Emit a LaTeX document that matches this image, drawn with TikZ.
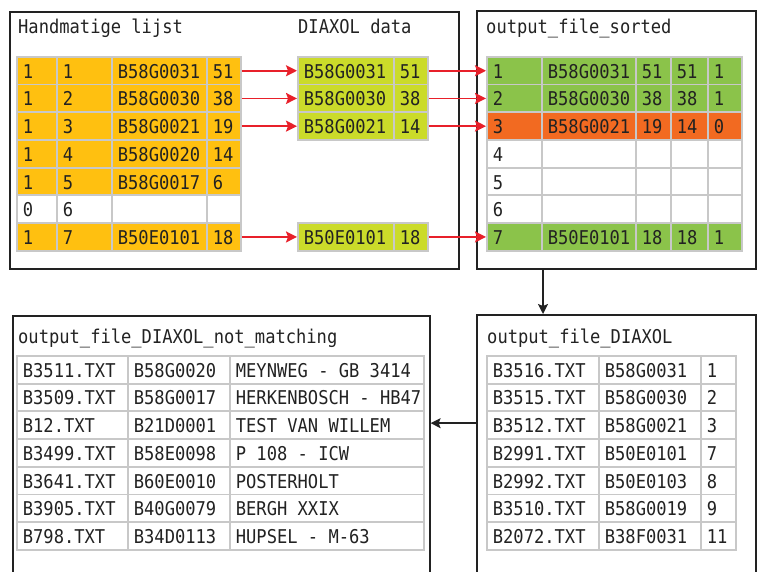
\documentclass[tikz,border=0pt]{standalone}
\usepackage{fontspec}
\newfontfamily\diagfont[FakeStretch=0.9]{DejaVu Sans Mono}
\usepackage{xcolor}
\usepackage{tikz}
\usetikzlibrary{arrows.meta, positioning}
\definecolor{boxdark}{RGB}{34,34,34}
\definecolor{cellgrey}{RGB}{200,200,200}
\definecolor{handyellow}{RGB}{255,192,16}
\definecolor{diaxlime}{RGB}{203,219,42}
\definecolor{okgreen}{RGB}{139,195,74}
\definecolor{badorange}{RGB}{242,106,33}
\definecolor{arrowred}{RGB}{232,32,42}
\newcommand{\tabfont}{\diagfont\fontsize{19pt}{22pt}\selectfont}
\newcommand{\celltxt}[2]{\hbox to #1pt{\hspace{6pt}#2\hfil}}
\tikzset{
  panel/.style={rectangle, draw=boxdark, line width=1.6pt,
    anchor=north west, inner sep=0pt},
  title/.style={anchor=base west, inner sep=0pt, font=\tabfont,
    text=boxdark},
  cell/.style={rectangle, draw=cellgrey, line width=1.8pt,
    anchor=north west, minimum height=27.7pt, inner sep=0pt,
    text height=15pt, text depth=-2pt, font=\tabfont, text=boxdark},
  redarrow/.style={-{Stealth[length=11pt, width=11pt, inset=2pt]},
    line width=1.8pt, color=arrowred},
  arrow/.style={-{Stealth[length=10pt, width=10pt, inset=2pt]},
    line width=1.4pt, color=boxdark}
}

\begin{document}
\begin{tikzpicture}[x=1pt, y=-1pt]
  \clip (0,0) rectangle (757,572);

  % Panels
  \node[panel, minimum width=449pt, minimum height=257pt] (handbox) at (9,11) {};
  \node[panel, minimum width=279pt, minimum height=258pt] (sorted) at (476,10) {};
  \node[panel, minimum width=417pt, minimum height=300pt] (notmatch) at (12,315) {};
  \node[panel, minimum width=279pt, minimum height=300pt] (diaxol) at (476,314) {};

  % Titles
  \node[title] (t-hand) at (18,34) {Handmatige lijst};
  \node[title] (t-data) at (298,34) {DIAXOL data};
  \node[title] (t-sorted) at (486,34) {output\_file\_sorted};
  \node[title] (t-notmatch) at (18,343) {output\_file\_DIAXOL\_not\_matching};
  \node[title] (t-diaxol) at (487,343) {output\_file\_DIAXOL};

  % Handmatige lijst
  \foreach \r/\a/\b/\c/\d/\f in {1/1/1/B58G0031/51/handyellow,
      2/1/2/B58G0030/38/handyellow, 3/1/3/B58G0021/19/handyellow,
      4/1/4/B58G0020/14/handyellow, 5/1/5/B58G0017/6/handyellow,
      6/0/6/{}/{}/white, 7/1/7/B50E0101/18/handyellow} {
    \node[cell, fill=\f] (h\r-1) at (16,{56+(\r-1)*27.7}) {\celltxt{40}{\a}};
    \node[cell, fill=\f] (h\r-2) at (56,{56+(\r-1)*27.7}) {\celltxt{55}{\b}};
    \node[cell, fill=\f] (h\r-3) at (111,{56+(\r-1)*27.7}) {\celltxt{95}{\c}};
    \node[cell, fill=\f] (h\r-4) at (206,{56+(\r-1)*27.7}) {\celltxt{34}{\d}};
  }

  % DIAXOL data
  \foreach \r/\c/\d in {1/B58G0031/51, 2/B58G0030/38, 3/B58G0021/14, 7/B50E0101/18} {
    \node[cell, fill=diaxlime] (d\r-1) at (297,{56+(\r-1)*27.7}) {\celltxt{96}{\c}};
    \node[cell, fill=diaxlime] (d\r-2) at (393,{56+(\r-1)*27.7}) {\celltxt{34}{\d}};
  }

  % output_file_sorted
  \foreach \r/\c/\d/\e/\g/\f in {1/B58G0031/51/51/1/okgreen,
      2/B58G0030/38/38/1/okgreen, 3/B58G0021/19/14/0/badorange,
      4/{}/{}/{}/{}/white, 5/{}/{}/{}/{}/white, 6/{}/{}/{}/{}/white,
      7/B50E0101/18/18/1/okgreen} {
    \node[cell, fill=\f] (s\r-1) at (486,{56+(\r-1)*27.7}) {\celltxt{55}{\r}};
    \node[cell, fill=\f] (s\r-2) at (541,{56+(\r-1)*27.7}) {\celltxt{94}{\c}};
    \node[cell, fill=\f] (s\r-3) at (635,{56+(\r-1)*27.7}) {\celltxt{35}{\d}};
    \node[cell, fill=\f] (s\r-4) at (670,{56+(\r-1)*27.7}) {\celltxt{37}{\e}};
    \node[cell, fill=\f] (s\r-5) at (707,{56+(\r-1)*27.7}) {\celltxt{34}{\g}};
  }

  % output_file_DIAXOL_not_matching
  \foreach \r/\a/\b/\c in {1/B3511.TXT/B58G0020/MEYNWEG - GB 3414,
      2/B3509.TXT/B58G0017/HERKENBOSCH - HB47, 3/B12.TXT/B21D0001/TEST VAN WILLEM,
      4/B3499.TXT/B58E0098/P 108 - ICW, 5/B3641.TXT/B60E0010/POSTERHOLT,
      6/B3905.TXT/B40G0079/BERGH XXIX, 7/B798.TXT/B34D0113/HUPSEL - M-63} {
    \node[cell, fill=white] (n\r-1) at (16,{355+(\r-1)*27.7}) {\celltxt{111}{\a}};
    \node[cell, fill=white] (n\r-2) at (127,{355+(\r-1)*27.7}) {\celltxt{102}{\b}};
    \node[cell, fill=white] (n\r-3) at (229,{355+(\r-1)*27.7}) {\celltxt{194}{\c}};
  }

  % output_file_DIAXOL
  \foreach \r/\a/\b/\c in {1/B3516.TXT/B58G0031/1, 2/B3515.TXT/B58G0030/2,
      3/B3512.TXT/B58G0021/3, 4/B2991.TXT/B50E0101/7, 5/B2992.TXT/B50E0103/8,
      6/B3510.TXT/B58G0019/9, 7/B2072.TXT/B38F0031/11} {
    \node[cell, fill=white] (o\r-1) at (486,{355+(\r-1)*27.7}) {\celltxt{112}{\a}};
    \node[cell, fill=white] (o\r-2) at (598,{355+(\r-1)*27.7}) {\celltxt{102}{\b}};
    \node[cell, fill=white] (o\r-3) at (700,{355+(\r-1)*27.7}) {\celltxt{35}{\c}};
  }

  % Matching arrows
  \foreach \r in {1,2,3,7} {
    \draw[redarrow] (h\r-4) -- (d\r-1);
    \draw[redarrow] (d\r-2) -- (s\r-1);
  }

  % Flow between panels
  \draw[arrow] ([xshift=67pt]sorted.south west) -- ([xshift=67pt]diaxol.north west);
  \draw[arrow] ([yshift=2pt]diaxol.west |- o3-1) -- ([yshift=2pt]notmatch.east |- o3-1);
\end{tikzpicture}
\end{document}
